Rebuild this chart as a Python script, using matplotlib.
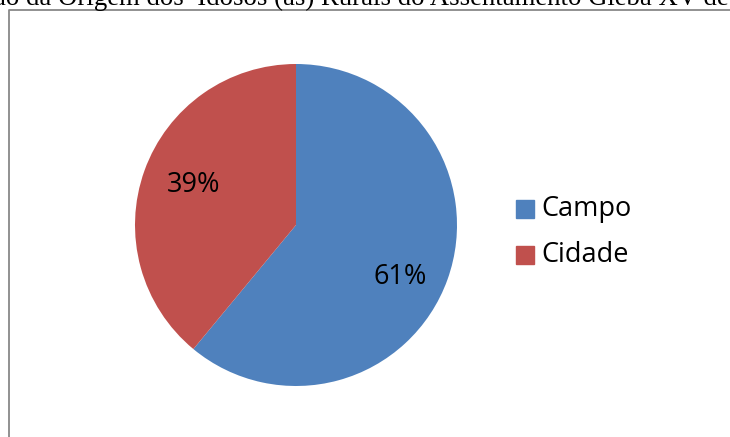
import matplotlib
matplotlib.use("Agg")
import matplotlib.pyplot as plt
from matplotlib.patches import Rectangle

categories = ["Campo", "Cidade"]
values = [61, 39]
colors = ["#4F81BD", "#C0504D"]
title_text = "ão da Origem dos  Idosos (as) Rurais do Assentamento Gleba XV de"

W, H = 730, 437
fig = plt.figure(figsize=(W / 100, H / 100), dpi=100)
ax = fig.add_axes([0, 0, 1, 1])
ax.set_xlim(0, W)
ax.set_ylim(0, H)
ax.set_aspect("equal")
ax.axis("off")

# chart frame (cropped)
ax.plot([8.5, 8.5, W + 5], [-5, H - 9.5, H - 9.5], color="#888888", lw=1.3, clip_on=False)

cx, cy, r = 296, H - 225, 161
wedges, texts, autotexts = ax.pie(
    values, colors=colors, startangle=90, counterclock=False,
    center=(cx, cy), radius=r, autopct="%d%%", pctdistance=0.7,
    textprops=dict(fontsize=19.5, family="Open Sans", color="black"),
    wedgeprops=dict(linewidth=0),
)
# label placement offsets (relative to pie centre, in pixels)
offsets = [(104, -52), (-102, 40)]
for t, (dx, dy) in zip(autotexts, offsets):
    t.set_position((cx + dx, cy + dy))
ax.set_xlim(0, W)
ax.set_ylim(0, H)

# legend
for i, (cat, col) in enumerate(zip(categories, colors)):
    y = H - (209 + i * 46)
    ax.add_patch(Rectangle((516, y - 9), 18, 18, color=col))
    ax.text(541, y, cat, fontsize=19.5, family="Open Sans", va="center", ha="left")

# title (cropped at the top as in the source image)
ax.text(-6, H - 5, title_text, fontsize=19.3, family="Liberation Serif",
        va="baseline", ha="left", clip_on=False)

fig.savefig("out.png", dpi=100)
